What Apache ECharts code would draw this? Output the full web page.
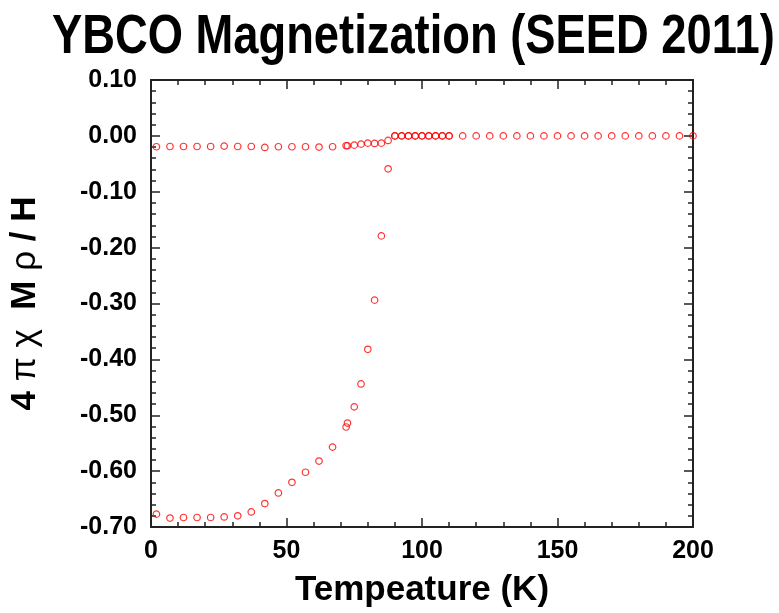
<!DOCTYPE html>
<html>
<head>
<meta charset="UTF-8">
<title>YBCO Magnetization</title>
<script src="https://cdn.jsdelivr.net/npm/echarts@6/dist/echarts.min.js"></script>
<style>
html, body { margin: 0; padding: 0; background: #fff; }
#chart { width: 779px; height: 613px; }
</style>
</head>
<body>
<div id="chart"></div>
<script>
// temperatures measured on both branches (K)
var tempLow = [2, 7, 12, 17, 22, 27, 32, 37, 42, 47, 52, 57, 62, 67, 72, 72.5, 75, 77.5, 80, 82.5, 85, 87.5,
    90, 92.5, 95, 97.5, 100, 102.5, 105, 107.5, 110];
// extra temperatures, upper branch only
var tempHigh = [115, 120, 125, 130, 135, 140, 145, 150, 155, 160, 165, 170, 175, 180, 185, 190, 195, 200];

// field-cooled branch (upper)
var fcValues = [-0.0195, -0.019, -0.019, -0.019, -0.019, -0.0183, -0.019, -0.019, -0.0207, -0.0195, -0.0195,
    -0.0195, -0.020, -0.0195, -0.0177, -0.0177, -0.0166, -0.0148, -0.013, -0.0136, -0.013, -0.0082,
    0, 0, 0, 0, 0, 0, 0, 0, 0,
    0, 0, 0, 0, 0, 0, 0, 0, 0, 0, 0, 0, 0, 0, 0, 0, 0, 0];
// zero-field-cooled branch (lower)
var zfcValues = [-0.677, -0.684, -0.683, -0.683, -0.683, -0.682, -0.680, -0.673, -0.658, -0.639, -0.620,
    -0.602, -0.582, -0.557, -0.521, -0.514, -0.485, -0.444, -0.382, -0.294, -0.179, -0.059,
    0, 0, 0, 0, 0, 0, 0, 0, 0];

var allTemps = tempLow.concat(tempHigh);
var fcData = allTemps.map(function (t, i) { return [t, fcValues[i]]; });
var zfcData = tempLow.map(function (t, i) { return [t, zfcValues[i]]; });

var axisCol = '#222';
var font = 'Liberation Sans, Arial, Helvetica, sans-serif';

function frameAxis(extra) {
    var a = {
        axisLine: { show: true, onZero: false, lineStyle: { color: axisCol, width: 2 } },
        axisTick: { show: true, inside: true, length: 9, lineStyle: { color: axisCol, width: 1.5 } },
        minorTick: { show: true, splitNumber: 5, length: 5, lineStyle: { color: axisCol, width: 1.5 } },
        splitLine: { show: false },
        minorSplitLine: { show: false }
    };
    for (var k in extra) a[k] = extra[k];
    return a;
}

var chart = echarts.init(document.getElementById('chart'));
chart.setOption({
    backgroundColor: '#fff',
    animation: false,
    // title drawn as graphic text so it can be squeezed like a narrow face
    graphic: [{
        type: 'text',
        x: 52,
        y: 10,
        scaleX: 0.824,
        style: {
            text: 'YBCO Magnetization (SEED 2011)',
            font: 'bold 55px Liberation Sans, Arial, sans-serif',
            fill: '#000',
            textVerticalAlign: 'top'
        }
    }],
    grid: { left: 150, right: 86, top: 80, bottom: 84 },
    xAxis: [
        frameAxis({
            type: 'value', min: 0, max: 200, interval: 50, position: 'bottom',
            axisLabel: { margin: 12, fontFamily: font, fontWeight: 'bold', fontSize: 25, color: '#000' },
            name: 'Tempeature (K)', nameLocation: 'middle', nameGap: 46,
            nameTextStyle: { fontFamily: font, fontWeight: 'bold', fontSize: 35, color: '#000' }
        }),
        frameAxis({
            type: 'value', min: 0, max: 200, interval: 50, position: 'top',
            axisLabel: { show: false }
        })
    ],
    yAxis: [
        frameAxis({
            type: 'value', min: -0.7, max: 0.1, interval: 0.1, position: 'left',
            axisLabel: {
                margin: 14, fontFamily: font, fontWeight: 'bold', fontSize: 25, color: '#000',
                formatter: function (v) { return v.toFixed(2); }
            },
            name: '{b|4 }{g|π χ}{b|  M }{g|ρ}{b| / H}',
            nameLocation: 'middle', nameGap: 108,
            nameTextStyle: {
                color: '#000',
                rich: {
                    b: { fontFamily: font, fontWeight: 'bold', fontSize: 35, color: '#000' },
                    g: { fontFamily: font, fontWeight: 'normal', fontSize: 35, color: '#000' }
                }
            }
        }),
        frameAxis({
            type: 'value', min: -0.7, max: 0.1, interval: 0.1, position: 'right',
            axisLabel: { show: false }
        })
    ],
    series: [
        {
            name: 'FC',
            type: 'scatter',
            xAxisIndex: 0, yAxisIndex: 0,
            symbol: 'circle',
            symbolSize: 6.5,
            clip: false,
            itemStyle: { color: 'rgba(0,0,0,0)', borderColor: '#ff0000', borderWidth: 1.2 },
            data: fcData
        },
        {
            name: 'ZFC',
            type: 'scatter',
            xAxisIndex: 0, yAxisIndex: 0,
            symbol: 'circle',
            symbolSize: 6.5,
            clip: false,
            itemStyle: { color: 'rgba(0,0,0,0)', borderColor: '#ff0000', borderWidth: 1.2 },
            data: zfcData
        }
    ]
});
</script>
</body>
</html>
